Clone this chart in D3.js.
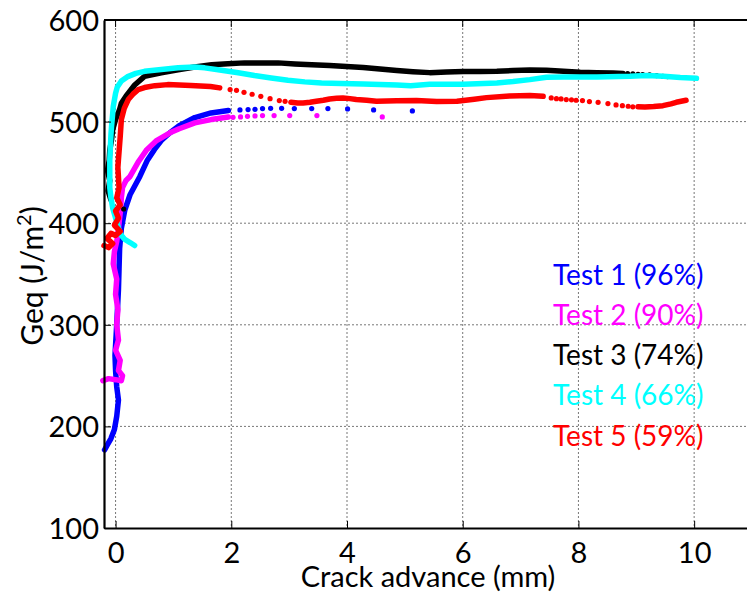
<!DOCTYPE html>
<html>
<head>
<meta charset="utf-8">
<script src="https://cdn.jsdelivr.net/npm/d3@7"></script>
<style>
  html, body { margin: 0; padding: 0; background: #fff; }
  svg { display: block; font-family: Lato, "Open Sans", sans-serif; }
</style>
</head>
<body>
<svg id="chart" width="747" height="592"></svg>
<script>
// Axis ticks
const xTicks = [0, 2, 4, 6, 8, 10];
const yTicks = [100, 200, 300, 400, 500, 600];

// Legend entries (name, residual ligament %)
const testLabels = ["Test 1 (96%)", "Test 2 (90%)", "Test 3 (74%)", "Test 4 (66%)", "Test 5 (59%)"];
const testColors = ["#0000ff", "#ff00ff", "#000000", "#00ffff", "#ff0000"];

// Each test: [crack advance (mm), Geq (J/m2)]
// "Trace" arrays are densely sampled stretches, "Dots" arrays are sparse samples.
const test1Trace = [
  [-0.19,177],[-0.14,182],[-0.08,188],[-0.02,197],[0.02,210],[0.05,226],[0.02,239],[0.0,255],
  [-0.01,270],[0.01,290],[0.03,312],[0.05,335],[0.06,355],[0.07,375],[0.1,395],[0.16,413],
  [0.25,428],[0.42,446],[0.55,462],[0.67,472.4],[0.8,482],[0.94,489],[1.1,496],[1.37,504],
  [1.65,508.5],[1.95,511]
];
const test1Dots = [
  [2.15,511.5],[2.29,511.8],[2.41,512.1],[2.54,512.8],[2.68,513.1],[2.87,513.1],[3.09,512.8],
  [3.39,512.8],[3.67,512.8],[4.01,512.5],[4.46,511.5],[5.13,510.5]
];

const test2Trace = [
  [-0.22,245],[-0.12,247],[0.0,246],[0.1,245],[0.12,250],[0.05,255],[0.08,265],[0.0,275],
  [0.05,285],[0.02,300],[0.04,315],[0.0,330],[0.02,345],[-0.04,360],[-0.02,372],[0.02,382],
  [0.05,395],[0.08,410],[0.1,425],[0.12,435],[0.18,442],[0.25,446],[0.4,461],[0.54,472.4],
  [0.7,481],[0.94,489],[1.1,493],[1.37,498.7],[1.65,502],[1.95,504.6]
];
const test2Dots = [
  [2.03,504.2],[2.16,504.6],[2.28,505.2],[2.41,505.6],[2.54,505.9],[2.74,505.9],[3.01,505.9],
  [3.48,505.9],[4.61,504.6]
];

const test3Trace = [
  [-0.08,423],[-0.13,432],[-0.1,442],[-0.14,452],[-0.11,462],[-0.1,472],[-0.07,482],[-0.05,492],
  [0.0,502],[0.07,512],[0.1,518],[0.18,525],[0.33,536],[0.5,544.5],[0.79,548],[1.08,551],
  [1.37,553.8],[1.66,556],[1.94,557],[2.23,557.8],[2.52,557.8],[2.81,557.8],[3.1,556.8],
  [3.39,556],[3.7,555.1],[3.99,554.2],[4.28,553.3],[4.57,551.7],[4.86,550.2],[5.14,549.1],
  [5.43,548.2],[5.72,548.9],[6.01,549.2],[6.3,549.2],[6.59,549.5],[6.87,550.2],[7.16,550.9],
  [7.45,550.5],[7.74,549.5],[8.03,548.5],[8.32,548.2],[8.6,547.9],[8.77,547.4]
];
const test3Dots = [
  [0.14,414],[8.85,547.2],[8.94,546.9],[9.03,546.5],[9.11,546.2],[9.23,545.9],[9.35,545.3],
  [9.46,544.6],[9.54,544.3]
];

const test4Trace = [
  [0.33,378],[0.25,381],[0.16,384],[0.1,388],[0.05,395],[0.0,405],[-0.05,415],[-0.08,425],
  [-0.1,435],[-0.1,448],[-0.1,462],[-0.09,475],[-0.08,487],[-0.07,495],[-0.05,508],[-0.04,515],
  [0.0,528],[0.03,534],[0.1,540],[0.2,544],[0.35,547.5],[0.5,549.5],[0.79,551.2],[1.08,552.9],
  [1.37,553.8],[1.54,552.9],[1.83,550.5],[2.12,548],[2.4,545.3],[2.69,543],[2.98,540.7],
  [3.27,539.1],[3.56,538.1],[3.9,537.6],[4.28,537],[4.86,536],[5.1,535.4],[5.43,536.7],
  [6.01,536.7],[6.59,538.1],[6.87,539.4],[7.16,541.3],[7.45,543.6],[7.74,544],[8.32,544],
  [8.89,544.6],[9.18,545.3],[9.47,544.6],[9.76,543.3],[10.04,542.6]
];
const test4Dots = [];

const test5Trace = [
  [-0.2,378],[-0.12,376],[-0.05,380],[-0.15,385],[-0.08,390],[0.0,388],[0.08,392],[-0.02,398],
  [0.05,405],[0.0,412],[0.08,418],[0.02,425],[0.06,435],[0.05,445],[0.04,455],[0.05,463],
  [0.08,485],[0.1,502],[0.15,513],[0.22,521.7],[0.3,527],[0.39,531.5],[0.5,533.5],[0.68,535.4],
  [0.9,536.4],[1.3,535.5],[1.64,534.5],[1.8,533.2]
];
const test5Mid = [
  [3.03,519],[3.15,518.4],[3.24,518.4],[3.36,519],[3.47,520],[3.59,521],[3.7,522.3],[3.82,522.9],
  [3.93,523.3],[4.05,522.6],[4.16,521.7],[4.34,521],[4.51,520],[4.86,520.4],[5.2,520.7],
  [5.55,519.7],[5.9,520],[6.2,522],[6.41,523.6],[6.81,525.3],[7.16,525.6],[7.39,524.9]
];
const test5End = [
  [9.03,514.5],[9.15,514.4],[9.3,514.8],[9.46,515.7],[9.6,517.5],[9.69,519],[9.86,521]
];
const test5Dots = [
  [1.98,531.5],[2.09,530.8],[2.22,528.8],[2.36,526.9],[2.51,524.9],[2.67,522.6],[2.83,520.7],
  [2.93,520],[7.53,523.3],[7.62,522.6],[7.7,522.3],[7.79,521.7],[7.88,521.4],[7.96,521],
  [8.07,520.7],[8.19,519.7],[8.34,519],[8.51,517.7],[8.65,516.4],[8.76,515.7],[8.86,515.1],
  [8.94,514.5]
];

const tests = [
  { traces: [test1Trace], dots: test1Dots, color: testColors[0] },
  { traces: [test2Trace], dots: test2Dots, color: testColors[1] },
  { traces: [test3Trace], dots: test3Dots, color: testColors[2] },
  { traces: [test4Trace], dots: test4Dots, color: testColors[3] },
  { traces: [test5Trace, test5Mid, test5End], dots: test5Dots, color: testColors[4] }
];

const svg = d3.select("#chart");
const plotLeft = 104, plotTop = 20, plotBottom = 528, plotRight = 752;

const x = d3.scaleLinear().domain([-0.2, 11]).range([plotLeft, plotRight]);
const y = d3.scaleLinear().domain([100, 600]).range([plotBottom, plotTop]);

// Dotted grid
const grid = svg.append("g").attr("stroke", "#777").attr("stroke-width", 1).attr("stroke-dasharray", "2,2");
grid.selectAll("line.gx").data(xTicks).join("line").attr("class", "gx")
  .attr("x1", d => x(d)).attr("x2", d => x(d)).attr("y1", plotTop).attr("y2", plotBottom);
grid.selectAll("line.gy").data(yTicks.slice(1, -1)).join("line").attr("class", "gy")
  .attr("x1", plotLeft).attr("x2", plotRight).attr("y1", d => y(d)).attr("y2", d => y(d));

// Data
const line = d3.line().x(d => x(d[0])).y(d => y(d[1])).curve(d3.curveLinear);
const plot = svg.append("g");
tests.forEach(t => {
  const g = plot.append("g");
  t.traces.forEach(tr => {
    g.append("path").attr("d", line(tr)).attr("fill", "none")
      .attr("stroke", t.color).attr("stroke-width", 5.5)
      .attr("stroke-linejoin", "round").attr("stroke-linecap", "round");
  });
  g.selectAll("circle").data(t.dots).join("circle")
    .attr("cx", d => x(d[0])).attr("cy", d => y(d[1])).attr("r", 2.6).attr("fill", t.color);
});

// Axes
const tickFont = 29;
const xAxis = d3.axisBottom(x).tickValues(xTicks).tickSizeInner(-7).tickSizeOuter(0).tickPadding(14);
const gx = svg.append("g").attr("transform", `translate(0,${plotBottom})`).call(xAxis);
const yAxis = d3.axisLeft(y).tickValues(yTicks).tickSizeInner(-7).tickSizeOuter(0).tickPadding(5);
const gy = svg.append("g").attr("transform", `translate(${plotLeft},0)`).call(yAxis);
[gx, gy].forEach(g => {
  g.select(".domain").attr("stroke", "#000").attr("stroke-width", 2.2);
  g.selectAll(".tick line").attr("stroke", "#000").attr("stroke-width", 1);
  g.selectAll(".tick text").attr("fill", "#000").attr("font-size", tickFont)
    .attr("font-family", "Lato, sans-serif");
});
gx.selectAll(".tick text").attr("dy", "0.71em");
gy.selectAll(".tick text").attr("dy", "0.36em");
svg.append("line").attr("x1", plotLeft).attr("x2", plotRight).attr("y1", plotTop).attr("y2", plotTop)
  .attr("stroke", "#000").attr("stroke-width", 2.2);
svg.append("g").selectAll("line").data(xTicks).join("line")
  .attr("x1", d => x(d)).attr("x2", d => x(d)).attr("y1", plotTop).attr("y2", plotTop + 7)
  .attr("stroke", "#000");

// Axis titles
svg.append("text").attr("x", 428).attr("y", 587).attr("text-anchor", "middle")
  .attr("font-size", 29).text("Crack advance (mm)");
const yt = svg.append("text").attr("transform", "translate(43,276) rotate(-90)")
  .attr("text-anchor", "middle").attr("font-size", 30);
yt.append("tspan").text("Geq (J/m");
yt.append("tspan").attr("font-size", 20).attr("dy", -12).text("2");
yt.append("tspan").attr("dy", 12).text(")");

// Legend
svg.append("g").selectAll("text").data(testLabels).join("text")
  .attr("x", 553).attr("y", (d, i) => 284.5 + i * 40.3)
  .attr("font-size", 28).attr("fill", (d, i) => testColors[i]).text(d => d);
</script>
</body>
</html>
